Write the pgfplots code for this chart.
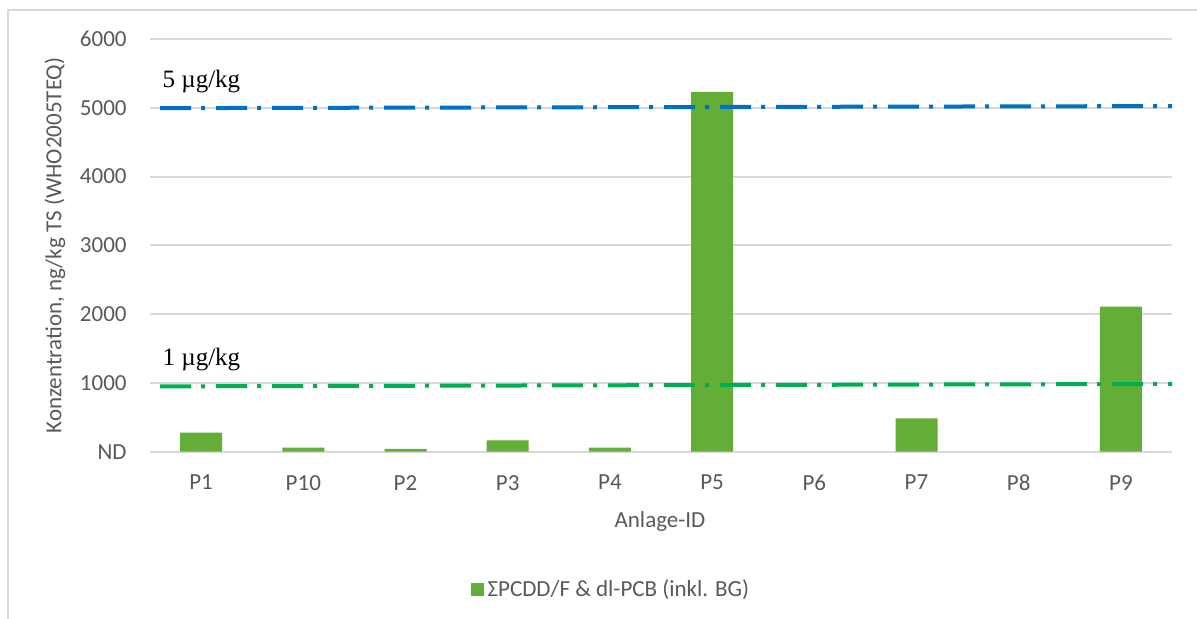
\documentclass[border=0pt]{standalone}
\usepackage{pgfplots}
\pgfplotsset{compat=1.18}
\usepackage{fontspec}
\setmainfont{Carlito}
\newfontfamily\seriffont{Liberation Serif}
\definecolor{barGreen}{HTML}{62AE36}
\definecolor{lineBlue}{HTML}{0070C0}
\definecolor{lineGreen}{HTML}{00B050}
\definecolor{gridGray}{HTML}{D9D9D9}
\definecolor{txtGray}{HTML}{595959}
\begin{document}
\begin{tikzpicture}
\useasboundingbox (0,0) rectangle (598.5pt,-309.5pt);
\draw[gridGray, line width=1pt] (4.2pt,-309.5pt) -- (4.2pt,-5pt) -- (598.5pt,-5pt);
\begin{axis}[
  at={(75pt,-225.85pt)}, anchor=south west,
  scale only axis, width=511pt, height=206.35pt,
  xmin=-0.5, xmax=9.5, ymin=0, ymax=6000,
  xtick={0,...,9},
  xticklabels={P1,P10,P2,P3,P4,P5,P6,P7,P8,P9},
  ytick={0,1000,2000,3000,4000,5000,6000},
  yticklabels={ND,1000,2000,3000,4000,5000,6000},
  major tick length=0pt,
  axis line style={draw=none},
  ymajorgrids, grid style={gridGray, line width=1pt},
  font=\fontsize{11.5}{13}\selectfont,
  tick label style={text=txtGray, font=\fontsize{11.5}{13}\selectfont},
  yticklabel style={inner sep=0pt, xshift=-11.5pt},
  xticklabel style={inner sep=0pt, yshift=-11.5pt, anchor=north},
  xlabel={Anlage-ID},
  ylabel={Konzentration, ng/kg TS (WHO2005TEQ)},
  label style={text=txtGray, font=\fontsize{11.5}{13}\selectfont},
  xlabel style={at={(axis description cs:0.499,-0.168)}, anchor=center},
  ylabel style={at={(axis description cs:-0.093,0.5)}, anchor=center},
  legend style={at={(axis description cs:0.452,-0.335)}, anchor=center, draw=none, font=\fontsize{11.5}{13}\selectfont, text=txtGray, inner sep=0pt},
  legend cell align=left,
  clip=false,
]
\addplot[ybar, bar width=21pt, fill=barGreen, draw=none,
  legend image code/.code={\fill[barGreen] (0pt,-3.25pt) rectangle (6.5pt,3.25pt);}]
  coordinates {(0,277) (1,58) (2,40) (3,166) (4,58) (5,5231) (7,486) (9,2111)};
\addlegendentry{ΣPCDD/F \& dl-PCB (inkl. BG)}
\addplot[forget plot, lineBlue, line width=2pt, dash pattern=on 15.5pt off 5pt on 2pt off 5.5pt]
  coordinates {(-0.4,4995) (9.5,5025)};
\addplot[forget plot, lineGreen, line width=2pt, dash pattern=on 15.5pt off 5pt on 2pt off 5.5pt]
  coordinates {(-0.4,950) (9.5,985)};
\node[anchor=west, inner sep=0pt, font=\seriffont\fontsize{12.5}{14}\selectfont] at (axis cs:-0.38,5381) {5 µg/kg};
\node[anchor=west, inner sep=0pt, font=\seriffont\fontsize{12.5}{14}\selectfont] at (axis cs:-0.38,1335) {1 µg/kg};
\end{axis}
\end{tikzpicture}
\end{document}
